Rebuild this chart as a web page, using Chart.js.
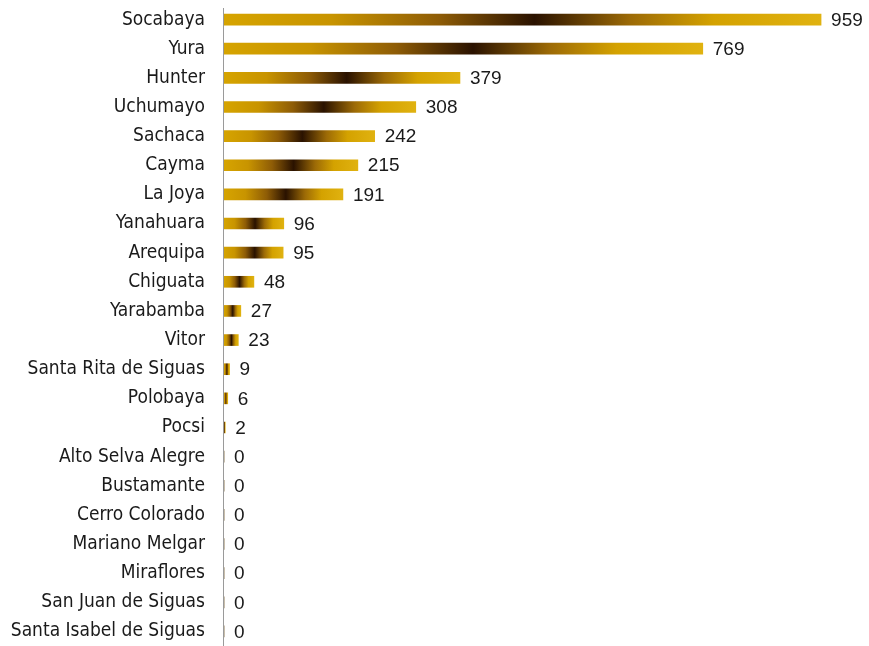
<!DOCTYPE html>
<html>
<head>
<meta charset="utf-8">
<script src="https://cdn.jsdelivr.net/npm/chart.js@4/dist/chart.umd.min.js"></script>
<style>
  html, body { margin: 0; padding: 0; background: #ffffff; overflow: hidden; }
  canvas { display: block; }
</style>
</head>
<body>
<canvas id="c" width="869" height="646"></canvas>
<script>
const categories = [
  "Socabaya", "Yura", "Hunter", "Uchumayo", "Sachaca", "Cayma", "La Joya",
  "Yanahuara", "Arequipa", "Chiguata", "Yarabamba", "Vitor",
  "Santa Rita de Siguas", "Polobaya", "Pocsi", "Alto Selva Alegre",
  "Bustamante", "Cerro Colorado", "Mariano Melgar", "Miraflores",
  "San Juan de Siguas", "Santa Isabel de Siguas"
];
const values = [959, 769, 379, 308, 242, 215, 191, 96, 95, 48, 27, 23, 9, 6, 2, 0, 0, 0, 0, 0, 0, 0];

const FONT = '"Liberation Sans Narrow", "DejaVu Sans Condensed", sans-serif';
const NUM_FONT = '"Liberation Sans", "DejaVu Sans", sans-serif';

function barGradient(ctx) {
  const chart = ctx.chart;
  const xs = chart.scales.x;
  if (!xs || ctx.type !== 'data') return '#D4A200';
  const v = ctx.raw || 0;
  const x0 = xs.getPixelForValue(0);
  const x1 = xs.getPixelForValue(v);
  if (!isFinite(x0) || !isFinite(x1) || x1 - x0 < 1) return '#5a3a00';
  const g = chart.ctx.createLinearGradient(x0, 0, x1, 0);
  g.addColorStop(0, '#D6A400');
  g.addColorStop(0.18, '#C89400');
  g.addColorStop(0.36, '#8E5C06');
  g.addColorStop(0.52, '#2A1200');
  g.addColorStop(0.68, '#9C6A06');
  g.addColorStop(0.82, '#D4A200');
  g.addColorStop(1, '#E0B210');
  return g;
}

const valueLabels = {
  id: 'valueLabels',
  afterDatasetsDraw(chart) {
    const c = chart.ctx;
    const meta = chart.getDatasetMeta(0);
    c.save();
    c.font = '19px ' + NUM_FONT;
    c.fillStyle = '#1a1a1a';
    c.textAlign = 'left';
    c.textBaseline = 'middle';
    meta.data.forEach((bar, i) => {
      c.fillText(String(values[i]), bar.x + 10, bar.y + 1);
    });
    c.restore();
  }
};

const axisLine = {
  id: 'axisLine',
  afterDatasetsDraw(chart) {
    const c = chart.ctx;
    const x = chart.scales.x.getPixelForValue(0);
    c.save();
    c.strokeStyle = '#9a9a9a';
    c.lineWidth = 1;
    c.beginPath();
    c.moveTo(Math.round(x) - 0.5, 8);
    c.lineTo(Math.round(x) - 0.5, chart.height);
    c.stroke();
    c.restore();
  }
};

new Chart(document.getElementById('c'), {
  type: 'bar',
  data: {
    labels: categories,
    datasets: [{
      data: values,
      backgroundColor: barGradient,
      borderWidth: 0,
      barThickness: 11
    }]
  },
  options: {
    indexAxis: 'y',
    responsive: false,
    maintainAspectRatio: false,
    animation: false,
    layout: { padding: { top: 5, bottom: 0, left: 0, right: 0 } },
    plugins: { legend: { display: false }, tooltip: { enabled: false } },
    scales: {
      x: {
        display: false,
        min: 0,
        max: 1036
      },
      y: {
        offset: true,
        border: { display: false },
        grid: { display: false, drawTicks: false },
        afterFit(scale) {
          scale.width = 224;
          scale.paddingTop = 0;
          scale.paddingBottom = 0;
        },
        ticks: {
          padding: 19,
          color: '#1a1a1a',
          font: { family: FONT, size: 19 }
        }
      }
    }
  },
  plugins: [valueLabels, axisLine]
});
</script>
</body>
</html>
